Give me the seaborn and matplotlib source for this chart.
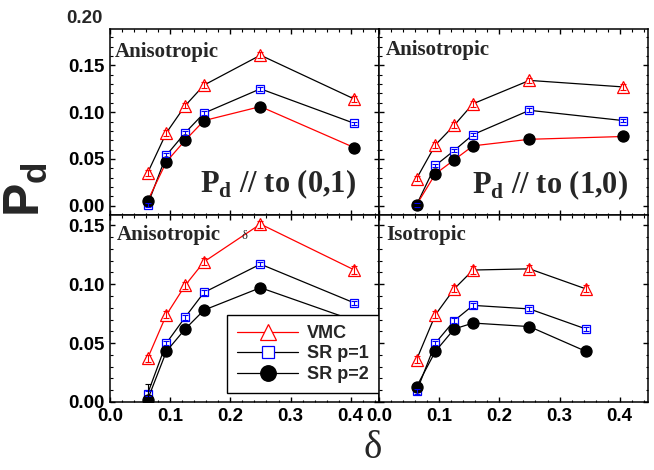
import numpy as np
import pandas as pd
import matplotlib
matplotlib.use("Agg")
import matplotlib.pyplot as plt
import seaborn as sns
from matplotlib.ticker import MultipleLocator, FormatStrFormatter
import matplotlib.transforms as mtransforms

# ---------------- data ----------------
delta = [0.0625, 0.09375, 0.125, 0.15625, 0.25, 0.40625]
delta_iso = [0.0625, 0.09375, 0.125, 0.15625, 0.25, 0.34375]

# top-left: anisotropic, Pd // to (0,1)
tl_vmc = [0.035, 0.078, 0.107, 0.129, 0.161, 0.114]
tl_sr1 = [0.001, 0.054, 0.078, 0.099, 0.125, 0.088]
tl_sr2 = [0.005, 0.047, 0.070, 0.091, 0.106, 0.062]

# top-right: anisotropic, Pd // to (1,0)
tr_vmc = [0.029, 0.065, 0.086, 0.109, 0.134, 0.127]
tr_sr1 = [0.001, 0.043, 0.059, 0.076, 0.102, 0.091]
tr_sr2 = [0.001, 0.034, 0.049, 0.064, 0.071, 0.074]

# bottom-left: anisotropic
bl_vmc = [0.037, 0.074, 0.099, 0.119, 0.151, 0.112]
bl_sr1 = [0.007, 0.050, 0.072, 0.093, 0.117, 0.084]
bl_sr2 = [0.002, 0.043, 0.062, 0.078, 0.097, 0.069]

# bottom-right: isotropic
br_vmc = [0.036, 0.074, 0.096, 0.112, 0.113, 0.096]
br_sr1 = [0.009, 0.050, 0.069, 0.082, 0.079, 0.062]
br_sr2 = [0.013, 0.043, 0.062, 0.067, 0.064, 0.043]

err_vmc = [0.003, 0.003, 0.003, 0.003, 0.003, 0.003]
err_sr1 = [0.002, 0.002, 0.002, 0.002, 0.002, 0.002]
err_sr2 = [0.001, 0.001, 0.001, 0.001, 0.001, 0.001]
err_sr2_bl = [0.013, 0.001, 0.001, 0.001, 0.001, 0.001]

series_names = ["VMC", "SR p=1", "SR p=2"]

# ---------------- style ----------------
sns.set_theme(style="ticks")
plt.rcParams.update({
    "font.family": ["Liberation Sans", "DejaVu Sans"],
    "font.weight": "bold",
    "axes.linewidth": 1.1,
    "axes.edgecolor": "black",
    "xtick.direction": "in",
    "ytick.direction": "in",
    "xtick.top": True,
    "ytick.right": True,
    "xtick.major.size": 3.5,
    "ytick.major.size": 3.5,
    "xtick.minor.size": 1.8,
    "ytick.minor.size": 1.8,
    "xtick.major.width": 1.0,
    "ytick.major.width": 1.0,
    "xtick.minor.width": 0.8,
    "ytick.minor.width": 0.8,
    "xtick.color": "black",
    "ytick.color": "black",
    "mathtext.fontset": "custom",
    "mathtext.bf": "Liberation Serif:bold",
    "mathtext.rm": "Liberation Serif",
    "mathtext.sf": "Liberation Sans:bold",
})

fig = plt.figure(figsize=(6.54, 4.70), dpi=100)
W, H = 654, 470
def ax_at(x0, y0, x1, y1):
    return fig.add_axes([x0 / W, 1 - y1 / H, (x1 - x0) / W, (y1 - y0) / H])

ax_tl = ax_at(110, 29, 379, 215)
ax_tr = ax_at(379, 29, 648, 215)
ax_bl = ax_at(110, 215, 379, 402)
ax_br = ax_at(379, 215, 648, 402)

marker_styles = [
    dict(marker="^", markersize=8, markerfacecolor="white", markeredgecolor="red", markeredgewidth=0.9),
    dict(marker="s", markersize=6, markerfacecolor="white", markeredgecolor="blue", markeredgewidth=0.9),
    dict(marker="o", markersize=8, markerfacecolor="black", markeredgecolor="black", markeredgewidth=0.9),
]
err_colors = ["red", "blue", "black"]

panels = [
    (ax_tl, delta, [tl_vmc, tl_sr1, tl_sr2], [err_vmc, err_sr1, err_sr2], ["black", "black", "red"], (-0.0100, 0.189)),
    (ax_tr, delta, [tr_vmc, tr_sr1, tr_sr2], [err_vmc, err_sr1, err_sr2], ["black", "black", "red"], (-0.0100, 0.189)),
    (ax_bl, delta, [bl_vmc, bl_sr1, bl_sr2], [err_vmc, err_sr1, err_sr2_bl], ["red", "black", "black"], (0.0, 0.1587)),
    (ax_br, delta_iso, [br_vmc, br_sr1, br_sr2], [err_vmc, err_sr1, err_sr2], ["black", "black", "black"], (0.0, 0.1587)),
]

for ax, xs, ys_list, errs, lcolors, ylim in panels:
    for i, (ys, es) in enumerate(zip(ys_list, errs)):
        df = pd.DataFrame({"delta": xs, "Pd": ys})
        lab = series_names[i] if ax is ax_bl else None
        sns.lineplot(data=df, x="delta", y="Pd", ax=ax, color=lcolors[i], linewidth=0.9,
                     label=lab, legend=False, zorder=2 + i * 0.1, **marker_styles[i])
        ax.errorbar(xs, ys, yerr=es, fmt="none", ecolor=err_colors[i], elinewidth=0.8,
                    capsize=2.5, capthick=0.8, zorder=3 + i * 0.1)
    ax.set_xlim(0, 0.447)
    ax.set_ylim(*ylim)
    ax.xaxis.set_major_locator(MultipleLocator(0.1))
    ax.xaxis.set_minor_locator(MultipleLocator(0.02))
    ax.yaxis.set_major_locator(MultipleLocator(0.05))
    ax.yaxis.set_minor_locator(MultipleLocator(0.01))
    ax.xaxis.set_major_formatter(FormatStrFormatter("%.1f"))
    ax.yaxis.set_major_formatter(FormatStrFormatter("%.2f"))
    ax.tick_params(which="both", labelsize=13.5, pad=4)
    ax.set_xlabel("")
    ax.set_ylabel("")
    for lbl in ax.get_xticklabels() + ax.get_yticklabels():
        lbl.set_fontweight("bold")
    for s in ax.spines.values():
        s.set_visible(True)
        s.set_zorder(5)

for ax in (ax_tl, ax_tr):
    ax.tick_params(labelbottom=False)
for ax in (ax_tr, ax_br):
    ax.tick_params(labelleft=False)

# "0.20" label above the top-left frame
trans = mtransforms.blended_transform_factory(ax_tl.transAxes, ax_tl.transData)
ax_tl.text(-0.026, 0.20, "0.20", transform=trans, ha="right", va="center",
           fontsize=13.5, fontweight="bold", clip_on=False)

serif = ["Liberation Serif", "DejaVu Serif"]
ax_tl.text(0.019, 0.849, "Anisotropic", transform=ax_tl.transAxes, family=serif,
           fontsize=15, fontweight="bold", va="baseline")
ax_tr.text(0.025, 0.86, "Anisotropic", transform=ax_tr.transAxes, family=serif,
           fontsize=15, fontweight="bold", va="baseline")
ax_bl.text(0.026, 0.866, "Anisotropic", transform=ax_bl.transAxes, family=serif,
           fontsize=15, fontweight="bold", va="baseline")
ax_bl.text(0.487, 0.872, "δ", transform=ax_bl.transAxes, family=serif,
           fontsize=9, fontweight="normal", va="baseline")
ax_br.text(0.026, 0.866, "Isotropic", transform=ax_br.transAxes, family=serif,
           fontsize=15, fontweight="bold", va="baseline")

ax_tl.text(0.335, 0.125, r"$\mathbf{P}_\mathbf{d}$ // to (0,1)", transform=ax_tl.transAxes,
           family=serif, fontsize=22, fontweight="bold", va="baseline")
ax_tr.text(0.346, 0.118, r"$\mathbf{P}_\mathbf{d}$ // to (1,0)", transform=ax_tr.transAxes,
           family=serif, fontsize=22, fontweight="bold", va="baseline")

# legend
leg = ax_bl.legend(loc="lower right", bbox_to_anchor=(1.0, 0.048), borderaxespad=0,
                   fontsize=13, frameon=True, fancybox=False, edgecolor="black",
                   framealpha=1, markerscale=1.4, handlelength=3.4, labelspacing=0.2,
                   borderpad=0.55, handletextpad=0.5)
leg.get_frame().set_linewidth(1.0)
for t in leg.get_texts():
    t.set_fontweight("bold")
leg.set_zorder(10)

# axis labels
fig.text(26 / W, 1 - 190 / H, r"$\mathsf{P_d}$", rotation=90, fontsize=36,
         ha="center", va="center")
fig.text(373 / W, 1 - 448 / H, "δ", family=serif, fontsize=28, fontweight="normal",
         ha="center", va="center")

fig.savefig("out.png", dpi=100)
